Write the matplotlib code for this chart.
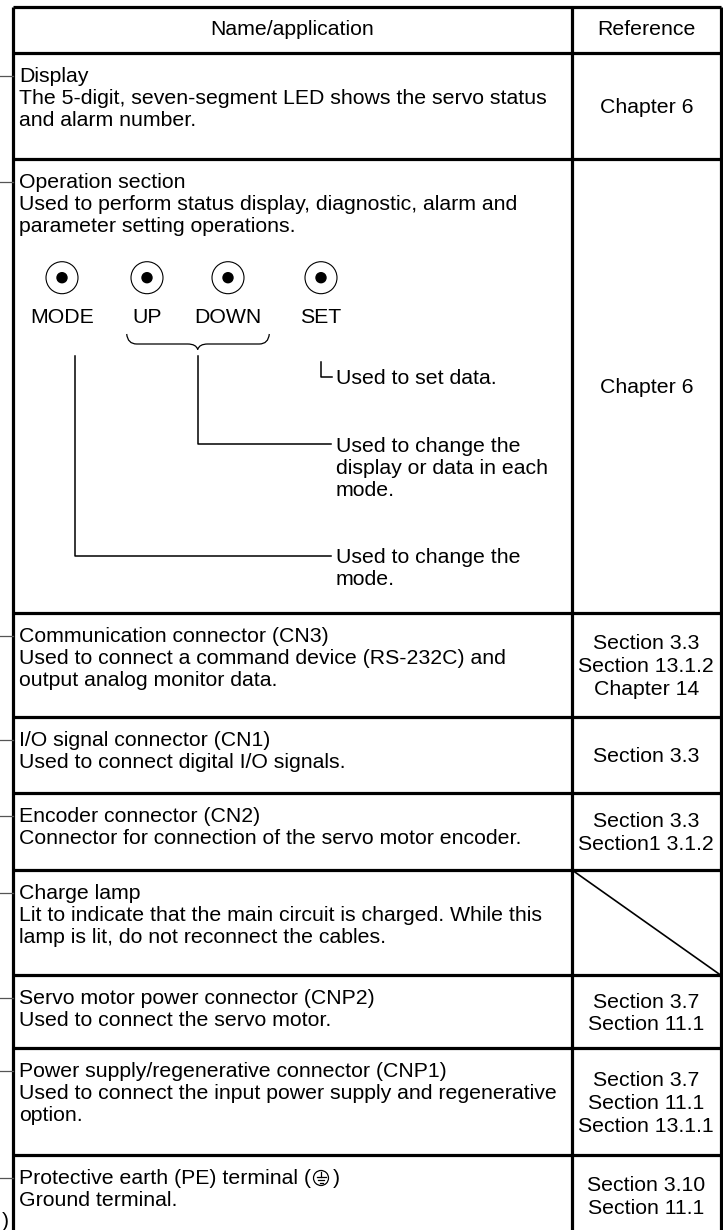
import matplotlib.pyplot as plt
from matplotlib.patches import Circle, PathPatch
from matplotlib.path import Path

plt.rcParams['font.family'] = ['Liberation Sans', 'DejaVu Sans']

# table content
header = ["Name/application", "Reference"]

item_lines = [
    ["Display",
     "The 5-digit, seven-segment LED shows the servo status",
     "and alarm number."],
    ["Operation section",
     "Used to perform status display, diagnostic, alarm and",
     "parameter setting operations."],
    ["Communication connector (CN3)",
     "Used to connect a command device (RS-232C) and",
     "output analog monitor data."],
    ["I/O signal connector (CN1)",
     "Used to connect digital I/O signals."],
    ["Encoder connector (CN2)",
     "Connector for connection of the servo motor encoder."],
    ["Charge lamp",
     "Lit to indicate that the main circuit is charged. While this",
     "lamp is lit, do not reconnect the cables."],
    ["Servo motor power connector (CNP2)",
     "Used to connect the servo motor."],
    ["Power supply/regenerative connector (CNP1)",
     "Used to connect the input power supply and regenerative",
     "option."],
    ["Protective earth (PE) terminal (",
     "Ground terminal."],
]

references = [
    ["Chapter 6"],
    ["Chapter 6"],
    ["Section 3.3", "Section 13.1.2", "Chapter 14"],
    ["Section 3.3"],
    ["Section 3.3", "Section1 3.1.2"],
    [],
    ["Section 3.7", "Section 11.1"],
    ["Section 3.7", "Section 11.1", "Section 13.1.1"],
    ["Section 3.10", "Section 11.1"],
]

button_names = ["MODE", "UP", "DOWN", "SET"]
button_notes = [
    ["Used to set data."],
    ["Used to change the", "display or data in each", "mode."],
    ["Used to change the", "mode."],
]

# layout (pixel coordinates)
W, H = 723, 1230
x_left, x_mid, x_right = 12.5, 572, 720.5
y_top, y_head = 7, 52.6
row_tops = [52.6, 159, 612.7, 716.7, 792.7, 870, 975, 1048, 1155]
row_bottom = 1235
fs = 15.3
line_h = 22
thick = 2.3

fig = plt.figure(figsize=(W / 100, H / 100), dpi=100)
ax = fig.add_axes([0, 0, 1, 1])
ax.set_xlim(0, W)
ax.set_ylim(H, 0)
ax.axis('off')

# grid
ax.vlines([x_left, x_mid, x_right], y_top, H + 5, color='black', lw=thick)
ax.hlines([y_top] + row_tops, x_left, x_right, color='black', lw=thick)

# header
ax.text((x_left + x_mid) / 2, (y_top + y_head) / 2, header[0], fontsize=fs,
        ha='center', va='center')
ax.text((x_mid + x_right) / 2, (y_top + y_head) / 2, header[1], fontsize=fs,
        ha='center', va='center')

bounds = row_tops + [row_bottom]
for i, lines in enumerate(item_lines):
    top, bot = bounds[i], bounds[i + 1]
    base = top + 29
    for k, s in enumerate(lines):
        ax.text(19, base + k * line_h, s, fontsize=fs, ha='left', va='baseline')
    # leader line from the left
    ax.plot([0, x_left], [base - 6, base - 6], color='#555555', lw=0.9)
    refs = references[i]
    n = len(refs)
    cy = (top + bot) / 2
    for k, s in enumerate(refs):
        ax.text((x_mid + x_right) / 2, cy + (k - (n - 1) / 2) * 23 + 7.5, s,
                fontsize=fs, ha='center', va='baseline')

# charge lamp: no reference
ax.plot([x_mid, x_right], [row_tops[5], row_tops[6]], color='black', lw=1.2)

# protective earth symbol after the first line
fig.canvas.draw()
rend = fig.canvas.get_renderer()
pe_txt = [t for t in ax.texts if t.get_text() == item_lines[8][0]][0]
bb = pe_txt.get_window_extent(rend).transformed(ax.transData.inverted())
sx = max(bb.x0, bb.x1) + 10
sy = row_tops[8] + 29 - 6
ax.add_patch(Circle((sx, sy), 7.5, fill=False, lw=0.9, color='black'))
ax.plot([sx, sx], [sy - 6, sy - 1.5], color='black', lw=0.9)
for dy, hw in [(-1.5, 4.5), (1.5, 3), (4.5, 1.5)]:
    ax.plot([sx - hw, sx + hw], [sy + dy, sy + dy], color='black', lw=0.9)
ax.text(sx + 12, row_tops[8] + 29, ")", fontsize=fs, ha='left', va='baseline')

# label fragment at bottom left
ax.text(5, 1227, ")", fontsize=fs, ha='center', va='baseline')

# operation buttons
btn_x = [62, 147, 228, 321]
btn_y = 277.7
for bx, name in zip(btn_x, button_names):
    ax.add_patch(Circle((bx, btn_y), 16, fill=False, lw=0.8, color='black'))
    ax.add_patch(Circle((bx, btn_y), 5, color='black'))
    ax.text(bx, 323, name, fontsize=fs, ha='center', va='baseline')

# brace under UP / DOWN
bl, bm, br = 126.7, 197.7, 269.3
by0, by1, by2 = 334, 344, 349.5
verts = [(bl, by0), (bl + 1, by1), (bl + 10, by1), (bm - 10, by1),
         (bm - 1.5, by1), (bm, by2), (bm + 1.5, by1), (bm + 10, by1),
         (br - 10, by1), (br - 1, by1), (br, by0)]
codes = [Path.MOVETO, Path.CURVE3, Path.CURVE3, Path.LINETO,
         Path.CURVE3, Path.CURVE3, Path.CURVE3, Path.CURVE3,
         Path.LINETO, Path.CURVE3, Path.CURVE3]
ax.add_patch(PathPatch(Path(verts, codes), fill=False, lw=0.9, color='black'))

# callout lines
note_x = 336
ax.plot([321, 321, 332], [362, 377, 377], color='black', lw=1.1)
ax.plot([bm, bm, 331], [356, 444, 444], color='black', lw=1.1)
ax.plot([75, 75, 331], [356, 555.7, 555.7], color='black', lw=1.1)
for cy, lines in zip([377, 444, 555.7], button_notes):
    for k, s in enumerate(lines):
        ax.text(note_x, cy + 7.5 + k * line_h, s, fontsize=fs, ha='left',
                va='baseline')

fig.savefig('out.png', dpi=100)
